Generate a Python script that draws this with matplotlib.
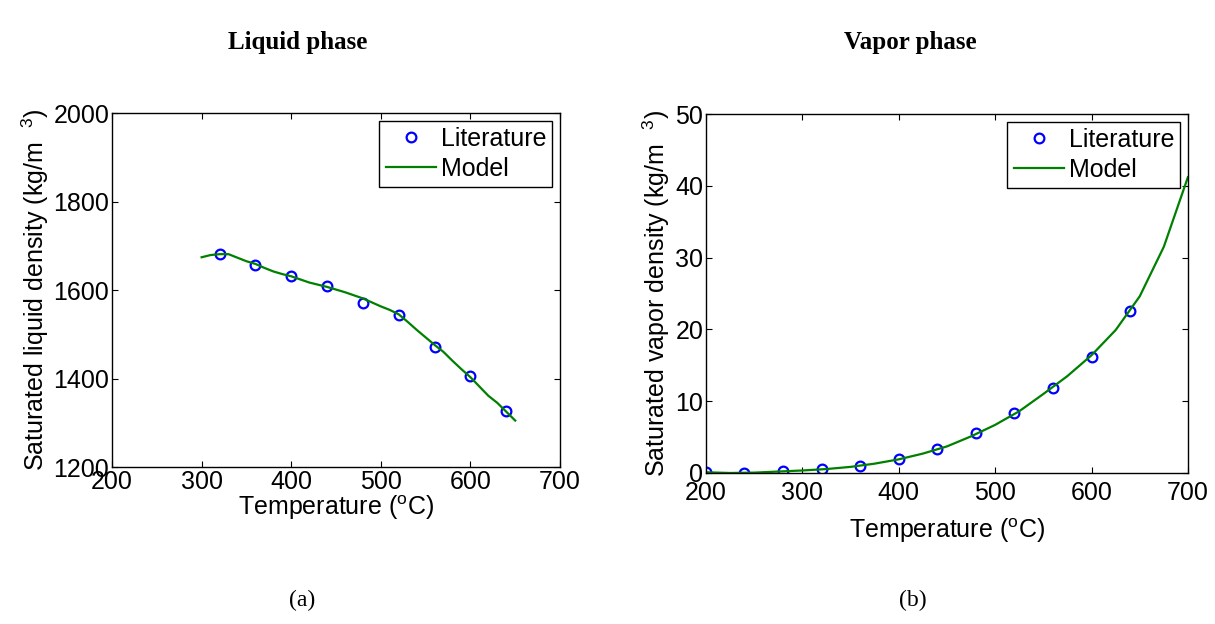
import numpy as np
import matplotlib
matplotlib.use("Agg")
import matplotlib.pyplot as plt

plt.rcParams['font.family'] = ['Liberation Sans', 'DejaVu Sans']
plt.rcParams['mathtext.default'] = 'regular'

# liquid phase
liq_t = [320, 360, 400, 440, 480, 520, 560, 600, 640]
liq_rho = [1681, 1657, 1631, 1610, 1571, 1543, 1471, 1406, 1327]
liq_model_t = [300, 310, 320, 330, 340, 350, 360, 370, 380, 390, 400, 410,
               420, 430, 440, 450, 460, 470, 480, 490, 500, 510, 520, 530,
               540, 550, 560, 570, 580, 590, 600, 610, 620, 630, 640, 650]
liq_model = [1674, 1679, 1681, 1681, 1673, 1665, 1659, 1650, 1642, 1636, 1631, 1624,
             1617, 1612, 1607, 1601, 1595, 1588, 1581, 1572, 1563, 1555, 1545, 1528,
             1510, 1493, 1476, 1460, 1440, 1421, 1403, 1382, 1361, 1345, 1325, 1305]

# vapor phase
vap_t = [200, 240, 280, 320, 360, 400, 440, 480, 520, 560, 600, 640]
vap_rho = [0.1, 0.05, 0.3, 0.6, 1.0, 2.0, 3.3, 5.6, 8.3, 11.9, 16.1, 22.6]
vap_model_t = [200, 225, 250, 275, 300, 325, 350, 375, 400, 425, 450, 475,
               500, 525, 550, 575, 600, 625, 650, 675, 700]
vap_model = [0.1, 0.0, 0.05, 0.2, 0.35, 0.55, 0.85, 1.3, 1.9, 2.7, 3.7, 5.1,
             6.7, 8.6, 11.0, 13.5, 16.4, 19.9, 24.6, 31.5, 41.2]

fs = 18
fig = plt.figure(figsize=(12.15, 6.24), dpi=100)
ax1 = fig.add_axes([0.0922, 0.2516, 0.3687, 0.5673])
ax2 = fig.add_axes([0.581, 0.242, 0.3967, 0.5753])


def style(ax, ylab, xpad, xlpad):
    ax.plot([], [], 'o', color='blue', mfc='none', ms=7, mew=1.6, label='Literature')
    ax.set_xlim(200, 700)
    ax.set_xticks([200, 300, 400, 500, 600, 700])
    ax.set_xlabel('Temperature ($^{o}$C)', fontsize=fs, labelpad=xlpad)
    ax.set_ylabel(ylab, fontsize=fs, labelpad=2)
    ax.tick_params(direction='in', top=True, right=True, labelsize=fs,
                   length=4, width=0.8, pad=2)
    ax.tick_params(axis='x', pad=xpad)
    for s in ax.spines.values():
        s.set_linewidth(1.0)


ax1.plot(liq_t, liq_rho, 'o', color='blue', mfc='none', ms=7, mew=1.6)
ax1.plot(liq_model_t, liq_model, '-', color=(0, 0.5, 0), lw=1.6, label='Model')
style(ax1, 'Saturated liquid density (kg/m  $^{3}$)', 2, 0)
ax1.set_ylim(1200, 2000)
ax1.set_yticks([1200, 1400, 1600, 1800, 2000])

ax2.plot(vap_t, vap_rho, 'o', color='blue', mfc='none', ms=7, mew=1.6)
ax2.plot(vap_model_t, vap_model, '-', color=(0, 0.5, 0), lw=1.6, label='Model')
style(ax2, 'Saturated vapor density (kg/m  $^{3}$)', 6, 8)
ax2.set_ylim(0, 50)
ax2.set_yticks([0, 10, 20, 30, 40, 50])

for ax in (ax1, ax2):
    h, l = ax.get_legend_handles_labels()
    order = [l.index('Literature'), l.index('Model')]
    leg = ax.legend([h[i] for i in order], [l[i] for i in order], loc='upper right',
                    fontsize=fs, fancybox=False, edgecolor='black', framealpha=1,
                    handlelength=2.0, handletextpad=0.2, borderpad=0.25,
                    labelspacing=0.25, borderaxespad=0.3)
    leg.get_frame().set_linewidth(1.0)

fig.text(0.245, 0.932, 'Liquid phase', family='Liberation Serif', weight='bold',
         fontsize=18, ha='center', va='center')
fig.text(0.749, 0.932, 'Vapor phase', family='Liberation Serif', weight='bold',
         fontsize=18, ha='center', va='center')
fig.text(0.249, 0.037, '(a)', family='Liberation Serif', fontsize=17,
         ha='center', va='center')
fig.text(0.751, 0.037, '(b)', family='Liberation Serif', fontsize=17,
         ha='center', va='center')

fig.savefig('out.png', dpi=100)
